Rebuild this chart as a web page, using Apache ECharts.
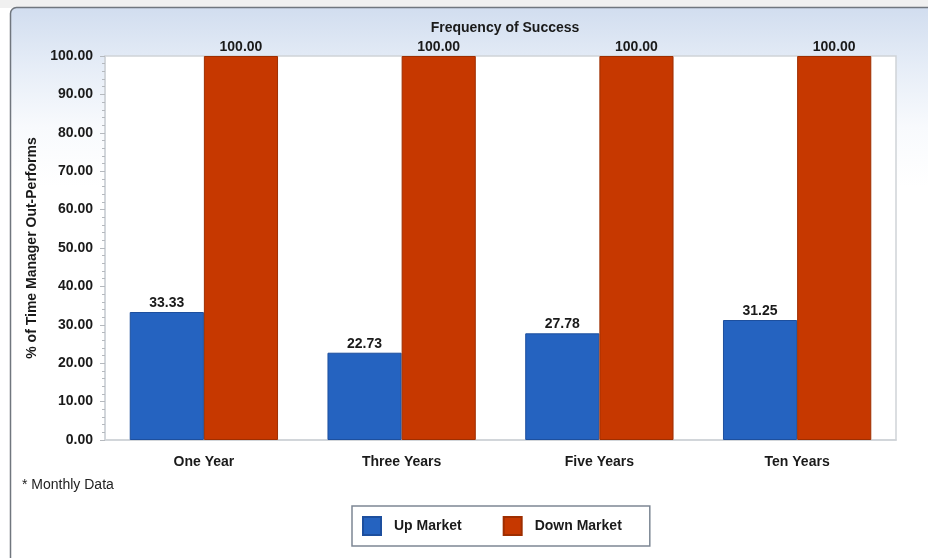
<!DOCTYPE html>
<html>
<head>
<meta charset="utf-8">
<script src="https://cdn.jsdelivr.net/npm/echarts@6/dist/echarts.min.js"></script>
<style>
  html, body { margin: 0; padding: 0; background: #ffffff; }
  #chart { width: 928px; height: 558px; }
</style>
</head>
<body>
<div id="chart"></div>
<script>
// Periods compared and the share of months the manager out-performed
const periods = ['One Year', 'Three Years', 'Five Years', 'Ten Years'];
const upMarket = [33.33, 22.73, 27.78, 31.25];
const downMarket = [100.00, 100.00, 100.00, 100.00];
const seriesNames = ['Up Market', 'Down Market'];

const FONT = '"Liberation Sans", Arial, sans-serif';
const chart = echarts.init(document.getElementById('chart'), null, { renderer: 'canvas' });

const valueLabel = {
  show: true,
  position: 'top',
  distance: 2,
  formatter: p => p.value.toFixed(2),
  color: '#1a1a1a',
  fontFamily: FONT,
  fontWeight: 'bold',
  fontSize: 14
};

chart.setOption({
  animation: false,
  backgroundColor: '#ffffff',
  textStyle: { fontFamily: FONT },
  graphic: [
    // strip above the panel
    { type: 'rect', z: -10, silent: true, shape: { x: 0, y: 0, width: 928, height: 8 }, style: { fill: '#f0f0f0' } },
    // outer panel with soft blue top fading to white
    {
      type: 'rect', z: -9, silent: true,
      shape: { x: 10.5, y: 7.5, width: 940, height: 600, r: [6, 0, 0, 0] },
      style: {
        fill: new echarts.graphic.LinearGradient(0, 0, 0, 1, [
          { offset: 0, color: '#d1ddef' },
          { offset: 0.1, color: '#e6edf7' },
          { offset: 0.2, color: '#f8fafd' },
          { offset: 0.3, color: '#ffffff' },
          { offset: 1, color: '#ffffff' }
        ]),
        stroke: '#70767e', lineWidth: 1.5
      }
    },
    {
      type: 'text', left: 22, top: 478, silent: true,
      style: { text: '* Monthly Data', fill: '#222222', font: '14px ' + FONT }
    }
  ],
  title: {
    text: 'Frequency of Success',
    left: 500, top: 16, textAlign: 'center',
    textStyle: { fontFamily: FONT, fontWeight: 'bold', fontSize: 14, color: '#1a1a1a' }
  },
  legend: {
    data: seriesNames,
    left: 352, top: 506,
    padding: [10, 28, 10, 10],
    itemGap: 41,
    itemWidth: 18, itemHeight: 18,
    icon: 'rect',
    backgroundColor: '#ffffff',
    borderColor: '#7d8794', borderWidth: 1.5,
    textStyle: { fontFamily: FONT, fontWeight: 'bold', fontSize: 14, color: '#1a1a1a', padding: [0, 0, 0, 8] }
  },
  grid: {
    left: 105, right: 32, top: 56, bottom: 118,
    show: true, backgroundColor: '#ffffff', borderColor: '#cfd3d8', borderWidth: 1.5
  },
  xAxis: {
    type: 'category',
    data: periods,
    axisLine: { lineStyle: { color: '#cfd3d8', width: 1.5 } },
    axisTick: { alignWithLabel: true, length: 7, lineStyle: { color: '#aaaaaa', type: 'dotted' } },
    axisLabel: { color: '#1a1a1a', fontFamily: FONT, fontWeight: 'bold', fontSize: 14, margin: 15 }
  },
  yAxis: {
    type: 'value',
    min: 0, max: 100, interval: 10,
    name: '% of Time Manager Out-Performs',
    nameLocation: 'middle',
    nameGap: 61,
    nameTextStyle: { fontFamily: FONT, fontWeight: 'bold', fontSize: 14, color: '#1a1a1a' },
    axisLine: { show: true, lineStyle: { color: '#cfd3d8', width: 1.5 } },
    axisTick: { show: true, length: 5, lineStyle: { color: '#b5b9be' } },
    minorTick: { show: true, splitNumber: 5, length: 3, lineStyle: { color: '#b5b9be' } },
    splitLine: { show: false },
    axisLabel: {
      formatter: v => v.toFixed(2),
      color: '#1a1a1a', fontFamily: FONT, fontWeight: 'bold', fontSize: 14, margin: 12
    }
  },
  series: [
    {
      name: seriesNames[0], type: 'bar', data: upMarket,
      barGap: '0%', barCategoryGap: '25%',
      itemStyle: { color: '#2563c0', borderColor: '#1d4f9e', borderWidth: 1 },
      label: valueLabel
    },
    {
      name: seriesNames[1], type: 'bar', data: downMarket,
      barGap: '0%', barCategoryGap: '25%',
      itemStyle: { color: '#c63800', borderColor: '#9e2e00', borderWidth: 1 },
      label: valueLabel
    }
  ]
});
</script>
</body>
</html>
